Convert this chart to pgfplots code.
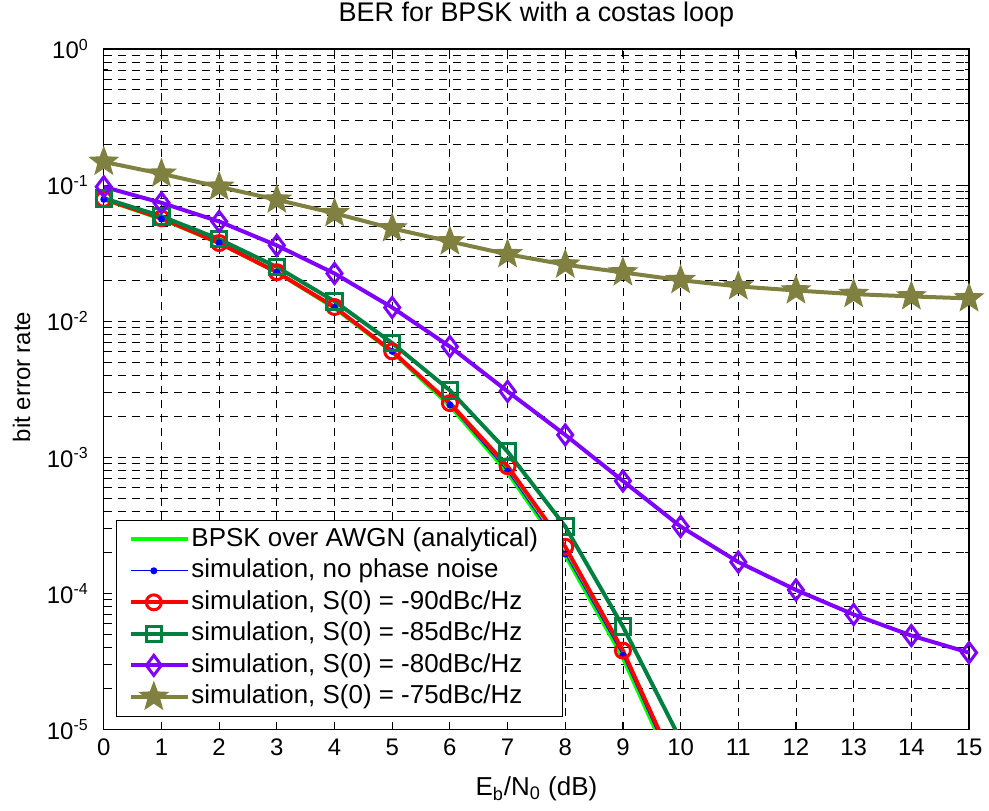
\documentclass[border=0pt]{standalone}
\usepackage{pgfplots}
\pgfplotsset{compat=1.18}
\usepackage{fontspec}
\setmainfont{Liberation Sans}
\definecolor{cgreen}{RGB}{0,255,0}
\definecolor{cdkgreen}{RGB}{0,128,64}
\definecolor{cpurple}{RGB}{128,0,255}
\definecolor{colive}{RGB}{128,128,64}
\pgfdeclareplotmark{fstar}{%
  \pgfpathmoveto{\pgfpointpolar{90}{\pgfplotmarksize}}%
  \pgfpathlineto{\pgfpointpolar{126}{0.42\pgfplotmarksize}}%
  \pgfpathlineto{\pgfpointpolar{162}{\pgfplotmarksize}}%
  \pgfpathlineto{\pgfpointpolar{198}{0.42\pgfplotmarksize}}%
  \pgfpathlineto{\pgfpointpolar{234}{\pgfplotmarksize}}%
  \pgfpathlineto{\pgfpointpolar{270}{0.42\pgfplotmarksize}}%
  \pgfpathlineto{\pgfpointpolar{306}{\pgfplotmarksize}}%
  \pgfpathlineto{\pgfpointpolar{342}{0.42\pgfplotmarksize}}%
  \pgfpathlineto{\pgfpointpolar{18}{\pgfplotmarksize}}%
  \pgfpathlineto{\pgfpointpolar{54}{0.42\pgfplotmarksize}}%
  \pgfpathclose
  \pgfusepathqfillstroke}
\begin{document}
\begin{tikzpicture}
\begin{axis}[
  scale only axis, width=433.5pt, height=341pt,
  xmin=0, xmax=15, ymin=1e-5, ymax=1, ymode=log,
  xtick={0,...,15},
  ytick={1e-5,1e-4,1e-3,1e-2,1e-1,1},
  yticklabels={10\textsuperscript{-5},10\textsuperscript{-4},10\textsuperscript{-3},10\textsuperscript{-2},10\textsuperscript{-1},10\textsuperscript{0}},
  /pgf/number format/assume math mode=true,
  grid=both,
  major grid style={dash pattern=on 4pt off 3pt, black, line width=0.4pt},
  minor grid style={dash pattern=on 4pt off 3pt, black, line width=0.4pt},
  tick align=inside, xtick pos=both, ytick pos=both,
  major tick length=4pt, minor tick length=2pt,
  every tick/.style={black, line width=0.5pt},
  axis line style={black, line width=0.6pt},
  tick label style={font=\fontsize{12}{14}\selectfont},
  xticklabel style={yshift=-1pt},
  yticklabel style={xshift=-4pt},
  every axis title shift=0pt,
  title={BER for BPSK with a costas loop},
  title style={overlay, font=\fontsize{13.5}{16}\selectfont, at={(axis description cs:0.5,1.05)}, anchor=center},
  xlabel={E\textsubscript{b}/N\textsubscript{0} (dB)},
  xlabel style={overlay, font=\fontsize{13}{15}\selectfont, at={(axis description cs:0.5,-0.087)}, anchor=center},
  ylabel={bit error rate},
  ylabel style={overlay, font=\fontsize{12}{14}\selectfont, at={(axis description cs:-0.095,0.518)}, anchor=center},
  legend style={at={(0.014,0.019)}, anchor=south west, font=\fontsize{13}{15}\selectfont,
    draw=black, line width=0.5pt, fill=white, inner xsep=6.5pt, inner ysep=2.5pt,
    row sep=1.6pt,
    nodes={inner sep=0.6pt, text height=10pt, text depth=3pt}},
  legend cell align=left,
  legend image code/.code={\path (0pt,0pt) -- (28.5pt,0pt);\draw[mark repeat=2,mark phase=2,#1] plot coordinates {(0pt,0pt) (11.25pt,0pt) (22.5pt,0pt)};},
]
\addplot[cgreen, line width=2pt] coordinates {
(0,0.0786) (1,0.0563) (2,0.0375) (3,0.0229) (4,0.0125) (5,0.00595) (6,0.00239) (7,7.73e-4) (8,1.91e-4) (9,3.36e-5) (10,3.87e-6)};
\addlegendentry{BPSK over AWGN (analytical)\hspace{5pt}\mbox{}}
\addplot[blue, line width=0.5pt, mark=*, mark size=1.5pt] coordinates {
(0,0.0785) (1,0.0562) (2,0.0376) (3,0.0228) (4,0.0126) (5,0.0060) (6,0.00242) (7,7.9e-4) (8,1.95e-4) (9,3.5e-5) (10,4.0e-6)};
\addlegendentry{simulation, no phase noise}
\addplot[red, line width=2pt, mark=o, mark size=3.75pt, mark options={solid, line width=1.5pt}] coordinates {
(0,0.079) (1,0.057) (2,0.0375) (3,0.0229) (4,0.0127) (5,0.0060) (6,0.0025) (7,8.6e-4) (8,2.2e-4) (9,3.8e-5) (10,4.4e-6)};
\addlegendentry{simulation, S(0) = -90dBc/Hz}
\addplot[cdkgreen, line width=2pt, mark=square, mark size=3.9pt, mark options={solid, line width=1.5pt}] coordinates {
(0,0.080) (1,0.059) (2,0.040) (3,0.025) (4,0.014) (5,0.0069) (6,0.0031) (7,1.1e-3) (8,3.1e-4) (9,5.7e-5) (10,8.4e-6)};
\addlegendentry{simulation, S(0) = -85dBc/Hz}
\addplot[cpurple, line width=2pt, mark=diamond, mark size=5pt, mark options={solid, line width=1.5pt}] coordinates {
(0,0.097) (1,0.074) (2,0.054) (3,0.036) (4,0.0224) (5,0.0126) (6,0.0065) (7,0.00305) (8,0.00146) (9,6.7e-4) (10,3.1e-4) (11,1.7e-4) (12,1.06e-4) (13,7.0e-5) (14,4.9e-5) (15,3.67e-5)};
\addlegendentry{simulation, S(0) = -80dBc/Hz}
\addplot[colive, line width=2pt, mark=fstar, mark size=7pt, mark options={solid, line width=0.8pt, fill=colive}] coordinates {
(0,0.148) (1,0.121) (2,0.097) (3,0.078) (4,0.062) (5,0.048) (6,0.0385) (7,0.031) (8,0.026) (9,0.0228) (10,0.020) (11,0.018) (12,0.0168) (13,0.0158) (14,0.0152) (15,0.0147)};
\addlegendentry{simulation, S(0) = -75dBc/Hz}
\end{axis}
\path ([xshift=-52pt,yshift=-40.5pt]current axis.south west) rectangle ([xshift=9pt,yshift=24.5pt]current axis.north east);
\end{tikzpicture}
\end{document}
